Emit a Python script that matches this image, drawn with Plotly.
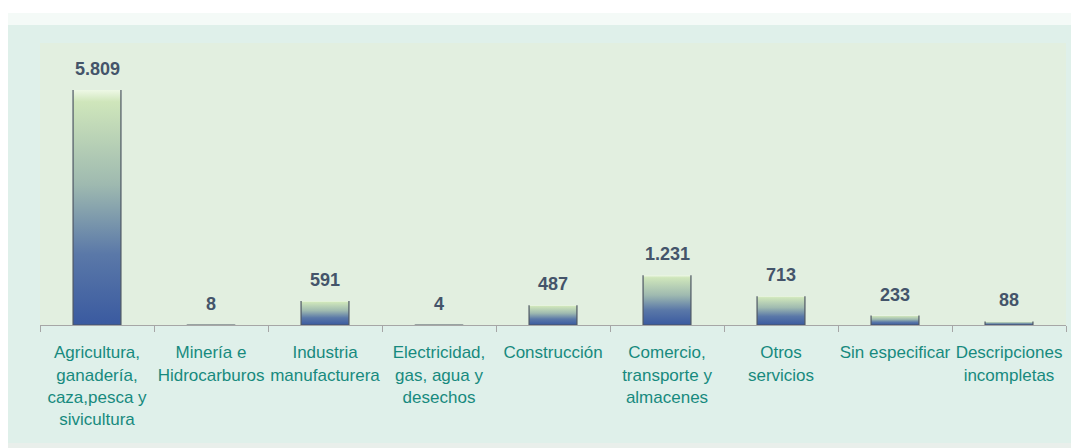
import plotly.graph_objects as go

categorias = [
    "Agricultura,<br>ganadería,<br>caza,pesca y<br>sivicultura",
    "Minería e<br>Hidrocarburos",
    "Industria<br>manufacturera",
    "Electricidad,<br>gas, agua y<br>desechos",
    "Construcción",
    "Comercio,<br>transporte y<br>almacenes",
    "Otros<br>servicios",
    "Sin especificar",
    "Descripciones<br>incompletas",
]
valores = [5809, 8, 591, 4, 487, 1231, 713, 233, 88]

FONT = "Liberation Sans, Arial"
# la pagina html deja 8 px de margen en el body
OFF = 8
W = 1079 - OFF
H = 448 - OFF
ML, MR, MT, MB = 40 - OFF, 13, 43 - OFF, 123
pw = W - ML - MR
ph = H - MT - MB

def px_x(p):
    return (p - OFF - ML) / pw

def px_y(p):
    return (H - MB - (p - OFF)) / ph

grad = [[0, "#3a5aa0"], [0.3, "#5a78a8"], [0.6, "#9fbab0"],
        [0.95, "#cfe6bb"], [1, "#eef8e6"]]
half = 0.21

fig = go.Figure()
for i, v in enumerate(valores):
    # lados y base oscuros, borde superior claro
    fig.add_trace(go.Scatter(
        x=[i - half, i - half, i + half, i + half],
        y=[v, 0, 0, v],
        mode="lines", fill="toself",
        fillgradient=dict(type="vertical", colorscale=grad),
        line=dict(color="#4d5663", width=1.2),
        hoverinfo="skip", showlegend=False,
    ))
    fig.add_annotation(
        x=i, y=v, text=f"{v:,}".replace(",", "."), showarrow=False,
        yanchor="bottom", yshift=9,
        font=dict(family=FONT, size=18, color="#44546a", weight="bold"),
    )

# panel de fondo y area del grafico
fig.add_shape(type="rect", xref="paper", yref="paper", layer="below",
              x0=px_x(8), x1=px_x(1079), y0=px_y(443), y1=px_y(13),
              fillcolor="#dff0ea", line_width=0)
fig.add_shape(type="rect", xref="paper", yref="paper", layer="below",
              x0=px_x(8), x1=px_x(1079), y0=px_y(25), y1=px_y(13),
              fillcolor="#f4faf7", line_width=0)
fig.add_shape(type="rect", xref="paper", yref="paper", layer="below",
              x0=px_x(8), x1=px_x(1079), y0=px_y(448), y1=px_y(443),
              fillcolor="#e9efeb", line_width=0)
fig.add_shape(type="rect", xref="paper", yref="paper", layer="below",
              x0=0, x1=1, y0=0, y1=1,
              fillcolor="#e2efe0", line_width=0)

fig.update_xaxes(
    range=[-0.5, len(valores) - 0.5],
    tickmode="array", tickvals=list(range(len(valores))), ticktext=categorias,
    tickangle=0, automargin=False,
    ticks="", showgrid=False, zeroline=False,
    showline=True, linecolor="#a6a6a6", linewidth=1,
    tickfont=dict(family=FONT, size=17, color="#178a7e"),
    ticklabelstandoff=12,
    minor=dict(tickmode="array", tickvals=[k - 0.5 for k in range(len(valores) + 1)],
               ticks="outside", ticklen=6, tickcolor="#a6a6a6", tickwidth=1),
    fixedrange=True,
)
fig.update_yaxes(range=[0, 6970], visible=False, fixedrange=True, automargin=False)

fig.update_layout(
    width=W, height=H,
    margin=dict(l=ML, r=MR, t=MT, b=MB, autoexpand=False),
    paper_bgcolor="white", plot_bgcolor="rgba(0,0,0,0)",
    showlegend=False,
)

fig.write_html("out.html")
